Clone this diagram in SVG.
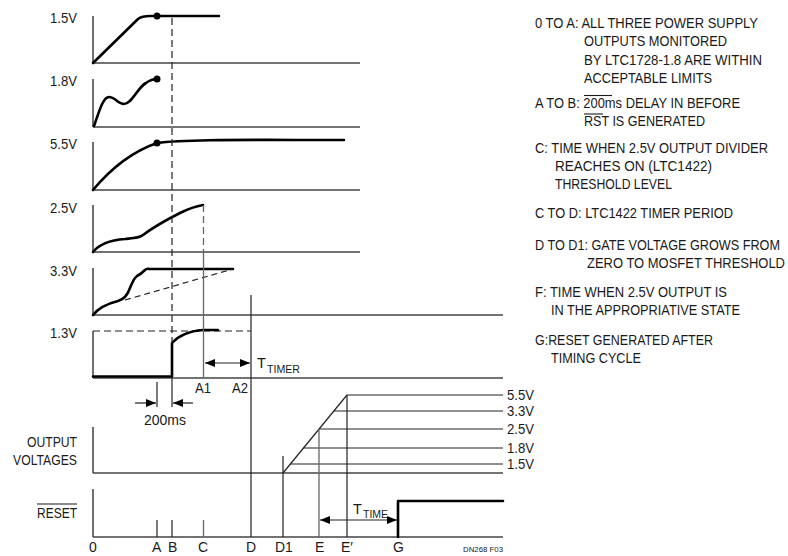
<svg xmlns="http://www.w3.org/2000/svg" width="788" height="556" viewBox="0 0 788 556">
<style>
text{font-family:"Liberation Sans",Arial,sans-serif;font-size:14.5px;fill:#1a1a1a}
.lbl{text-anchor:end}
.note{font-size:15.5px}
.tick{font-size:14px}
.sub{font-size:11px}
.small{font-size:7px}
.base{stroke:#444;stroke-width:1.4;fill:none}
.axis{stroke:#222;stroke-width:1.3;fill:none}
.sig{stroke:#000;stroke-width:2.6;fill:none;stroke-linejoin:round;stroke-linecap:round}
.thin{stroke:#222;stroke-width:1.2;fill:none}
.grey{stroke:#666;stroke-width:1.3;fill:none}
.dash{stroke:#222;stroke-width:1.2;fill:none;stroke-dasharray:7 4}
.ol{stroke:#1a1a1a;stroke-width:1.1}
</style>
<defs>
<marker id="ah" viewBox="0 0 10 8" refX="10" refY="4" markerWidth="10" markerHeight="8" markerUnits="userSpaceOnUse" orient="auto-start-reverse">
<path d="M0,0 L10,4 L0,8 z" fill="#000"/>
</marker>
</defs>

<g id="panel-1v5">
<text class="lbl" x="77" y="23" textLength="27" lengthAdjust="spacingAndGlyphs">1.5V</text>
<line class="axis" x1="93" y1="16" x2="93" y2="63"/>
<line class="base" x1="93" y1="63" x2="360" y2="63"/>
<path class="sig" d="M93,63 L138,19 Q142,16 150,16 L219,16"/>
<circle cx="157" cy="16" r="3.5" fill="#000"/>
</g>

<g id="panel-1v8">
<text class="lbl" x="77" y="86" textLength="27" lengthAdjust="spacingAndGlyphs">1.8V</text>
<line class="axis" x1="93" y1="79" x2="93" y2="127"/>
<line class="base" x1="93" y1="127" x2="360" y2="127"/>
<path class="sig" d="M94,126 C99,112 103,97 109,97 C115,97 118,104 124,104 C132,104 137,88 146,83 C150,80 153,79 157,79"/>
<circle cx="157" cy="79" r="3.5" fill="#000"/>
</g>

<g id="panel-5v5">
<text class="lbl" x="77" y="149" textLength="27" lengthAdjust="spacingAndGlyphs">5.5V</text>
<line class="axis" x1="93" y1="142" x2="93" y2="190"/>
<line class="base" x1="93" y1="190" x2="360" y2="190"/>
<path class="sig" d="M93,190 C113,166 134,151 157,143 C185,139 250,140 344,140"/>
<circle cx="157" cy="143" r="3.5" fill="#000"/>
</g>

<g id="panel-2v5">
<text class="lbl" x="77" y="213" textLength="27" lengthAdjust="spacingAndGlyphs">2.5V</text>
<line class="axis" x1="93" y1="205" x2="93" y2="252"/>
<line class="base" x1="93" y1="252" x2="360" y2="252"/>
<path class="sig" d="M93,252 C100,243 112,240 125,239 C135,238 139,238 143,235 C155,226 168,219 180,213 C190,208 197,206 203,205"/>
</g>

<g id="panel-3v3">
<text class="lbl" x="77" y="276" textLength="27" lengthAdjust="spacingAndGlyphs">3.3V</text>
<line class="axis" x1="93" y1="268" x2="93" y2="315"/>
<line class="base" x1="93" y1="315" x2="503" y2="315"/>
<path class="sig" d="M93,315 C100,306 110,303 118,301 C124,299 127,296 130,288 C133,281 134,278 137,276 C141,274 143,272 145,270 C147,268 148,269 150,269 L233,269"/>
<line class="thin" x1="125" y1="300" x2="233" y2="269" stroke-dasharray="6 4"/>
</g>

<g id="panel-1v3">
<text class="lbl" x="77" y="338" textLength="27" lengthAdjust="spacingAndGlyphs">1.3V</text>
<line class="axis" x1="93" y1="331" x2="93" y2="378"/>
<line class="base" x1="93" y1="378" x2="503" y2="378"/>
<line class="dash" x1="93" y1="331" x2="251" y2="331"/>
<path class="sig" d="M93,376.5 L172,376.5 L172,343 C180,334 190,331 203,330 L218,330" stroke-linecap="butt"/>
</g>

<g id="output-voltages">
<text class="lbl" x="77" y="447" textLength="50" lengthAdjust="spacingAndGlyphs">OUTPUT</text>
<text class="lbl" x="77" y="465" textLength="64" lengthAdjust="spacingAndGlyphs">VOLTAGES</text>
<line class="axis" x1="93" y1="427" x2="93" y2="473"/>
<line class="base" x1="93" y1="473" x2="503" y2="473"/>
<line class="thin" x1="283" y1="473" x2="347" y2="395"/>
<line class="thin" x1="347" y1="395" x2="503" y2="395"/>
<line class="thin" x1="334" y1="411" x2="503" y2="411"/>
<line class="thin" x1="319" y1="429" x2="503" y2="429"/>
<line class="thin" x1="303" y1="448" x2="503" y2="448"/>
<line class="thin" x1="290" y1="464" x2="503" y2="464"/>
<text x="507" y="400" textLength="27" lengthAdjust="spacingAndGlyphs">5.5V</text>
<text x="507" y="416" textLength="27" lengthAdjust="spacingAndGlyphs">3.3V</text>
<text x="507" y="434" textLength="27" lengthAdjust="spacingAndGlyphs">2.5V</text>
<text x="507" y="453" textLength="27" lengthAdjust="spacingAndGlyphs">1.8V</text>
<text x="507" y="469" textLength="27" lengthAdjust="spacingAndGlyphs">1.5V</text>
</g>

<g id="reset">
<text class="lbl" x="77" y="518" textLength="40" lengthAdjust="spacingAndGlyphs">RESET</text>
<line class="ol" x1="37" y1="504" x2="77" y2="504"/>
<line class="axis" x1="93" y1="489" x2="93" y2="537"/>
<line class="base" x1="93" y1="537" x2="503" y2="537"/>
<path class="sig" d="M398,537 L398,501 L503,501" stroke-linecap="butt"/>
</g>

<g id="connectors">
<line class="dash" x1="172" y1="18" x2="172" y2="343"/>
<line class="grey" x1="203.5" y1="205" x2="203.5" y2="252" stroke-dasharray="7 4"/>
<line class="grey" x1="203.5" y1="252" x2="203.5" y2="378"/>
<line class="thin" x1="251" y1="295" x2="251" y2="537"/>
<line class="thin" x1="157" y1="382" x2="157" y2="407"/>
<line class="thin" x1="172" y1="378" x2="172" y2="407"/>
<line class="thin" x1="135" y1="403" x2="156" y2="403" marker-end="url(#ah)"/>
<line class="thin" x1="193" y1="403" x2="173" y2="403" marker-end="url(#ah)"/>
<line class="thin" x1="205" y1="363" x2="250" y2="363" marker-start="url(#ah)" marker-end="url(#ah)"/>
<line class="thin" x1="157" y1="520" x2="157" y2="537"/>
<line class="thin" x1="172" y1="520" x2="172" y2="537"/>
<line class="grey" x1="203.5" y1="520" x2="203.5" y2="537"/>
<line class="thin" x1="283" y1="456" x2="283" y2="537"/>
<line class="grey" x1="319" y1="429" x2="319" y2="537"/>
<line class="thin" x1="347" y1="395" x2="347" y2="537"/>
<line class="thin" x1="320" y1="520" x2="397" y2="520" marker-start="url(#ah)" marker-end="url(#ah)"/>
</g>

<g id="timing-labels">
<text x="195" y="393" textLength="16" lengthAdjust="spacingAndGlyphs">A1</text>
<text x="232" y="393" textLength="16" lengthAdjust="spacingAndGlyphs">A2</text>
<text x="144" y="425" textLength="42" lengthAdjust="spacingAndGlyphs">200ms</text>
<text x="257" y="368">T</text><text class="sub" x="267" y="373" textLength="33" lengthAdjust="spacingAndGlyphs">TIMER</text>
<text x="353" y="514">T</text><text class="sub" x="363" y="518" textLength="25" lengthAdjust="spacingAndGlyphs">TIME</text>
<text class="tick" x="89" y="552">0</text>
<text class="tick" x="152" y="552">A</text>
<text class="tick" x="168" y="552">B</text>
<text class="tick" x="198" y="552">C</text>
<text class="tick" x="246" y="552">D</text>
<text class="tick" x="275" y="552">D1</text>
<text class="tick" x="315" y="552">E</text>
<text class="tick" x="341" y="552">E′</text>
<text class="tick" x="393" y="552">G</text>
<text class="small" x="463" y="552" textLength="40" lengthAdjust="spacingAndGlyphs">DN268 F03</text>
</g>

<g id="note-overlines">
<line class="ol" x1="584" y1="95.5" x2="612" y2="95.5"/>
<line class="ol" x1="584" y1="114" x2="603" y2="114"/>
</g>

<g id="notes" transform="scale(0.82,1)">
<text class="note" x="652.44" y="28" textLength="271.95" lengthAdjust="spacingAndGlyphs">0 TO A: ALL THREE POWER SUPPLY</text>
<text class="note" x="712.2" y="46.5" textLength="174.39" lengthAdjust="spacingAndGlyphs">OUTPUTS MONITORED</text>
<text class="note" x="712.2" y="65" textLength="217.07" lengthAdjust="spacingAndGlyphs">BY LTC1728-1.8 ARE WITHIN</text>
<text class="note" x="712.2" y="83" textLength="156.1" lengthAdjust="spacingAndGlyphs">ACCEPTABLE LIMITS</text>
<text class="note" x="652.44" y="108" textLength="250" lengthAdjust="spacingAndGlyphs">A TO B: 200ms DELAY IN BEFORE</text>
<text class="note" x="712.2" y="126.5" textLength="147.56" lengthAdjust="spacingAndGlyphs">RST IS GENERATED</text>
<text class="note" x="652.44" y="153" textLength="284.15" lengthAdjust="spacingAndGlyphs">C: TIME WHEN 2.5V OUTPUT DIVIDER</text>
<text class="note" x="676.83" y="171.5" textLength="191.46" lengthAdjust="spacingAndGlyphs">REACHES ON (LTC1422)</text>
<text class="note" x="676.83" y="189.5" textLength="142.68" lengthAdjust="spacingAndGlyphs">THRESHOLD LEVEL</text>
<text class="note" x="652.44" y="218" textLength="241.46" lengthAdjust="spacingAndGlyphs">C TO D: LTC1422 TIMER PERIOD</text>
<text class="note" x="652.44" y="250" textLength="298.78" lengthAdjust="spacingAndGlyphs">D TO D1: GATE VOLTAGE GROWS FROM</text>
<text class="note" x="715.85" y="268" textLength="241.46" lengthAdjust="spacingAndGlyphs">ZERO TO MOSFET THRESHOLD</text>
<text class="note" x="652.44" y="297" textLength="234.15" lengthAdjust="spacingAndGlyphs">F: TIME WHEN 2.5V OUTPUT IS</text>
<text class="note" x="671.95" y="315" textLength="230.49" lengthAdjust="spacingAndGlyphs">IN THE APPROPRIATIVE STATE</text>
<text class="note" x="652.44" y="345" textLength="217.07" lengthAdjust="spacingAndGlyphs">G:RESET GENERATED AFTER</text>
<text class="note" x="671.95" y="363" textLength="109.76" lengthAdjust="spacingAndGlyphs">TIMING CYCLE</text>
</g>
</svg>
